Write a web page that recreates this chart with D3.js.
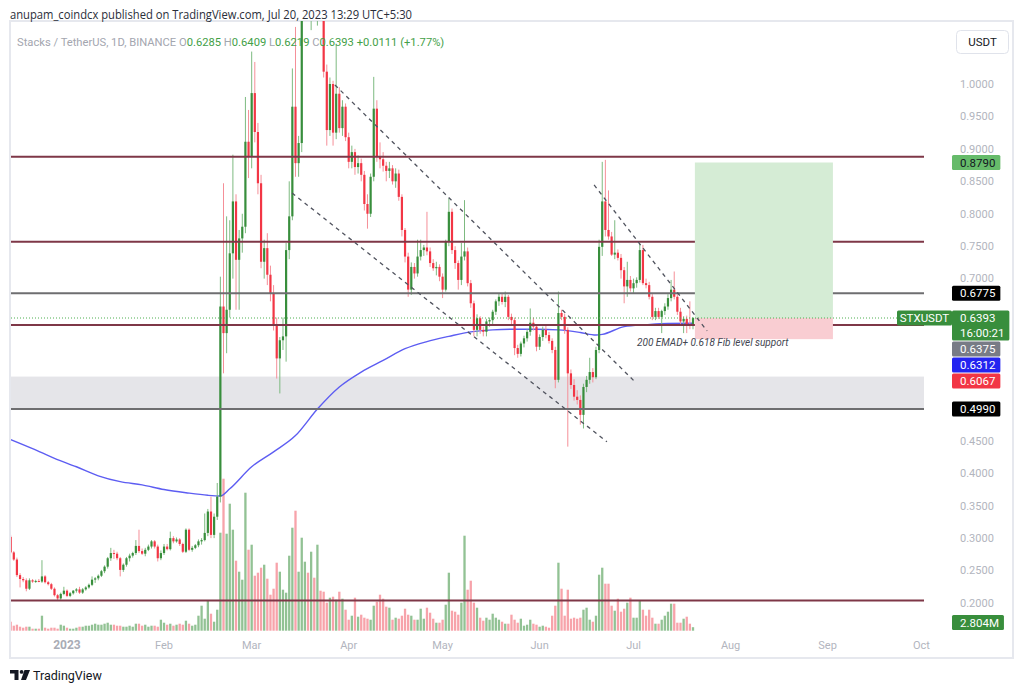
<!DOCTYPE html>
<html>
<head>
<meta charset="utf-8">
<script src="https://cdn.jsdelivr.net/npm/d3@7"></script>
<style>
  body { margin:0; background:#fff; }
  svg { display:block; font-family:Roboto, "Liberation Sans", Arial, sans-serif; }
</style>
</head>
<body>
<svg id="chart" width="1024" height="692"></svg>
<script>
// STX/USDT daily candles, first candle = 2022-12-14
// ---------------------------------------------------
var firstDay = new Date(2022, 11, 14);

var opens = [
  0.302,0.278,0.267,0.243,0.237,0.235,0.222,0.235,0.233,0.234,
  0.233,0.241,0.232,0.229,0.222,0.212,0.207,0.214,0.219,0.211,
  0.215,0.219,0.221,0.216,0.221,0.224,0.228,0.236,0.238,0.242,
  0.249,0.256,0.269,0.277,0.276,0.269,0.251,0.259,0.269,0.273,
  0.277,0.288,0.280,0.276,0.282,0.287,0.295,0.287,0.269,0.277,
  0.287,0.283,0.300,0.295,0.298,0.291,0.279,0.313,0.282,0.285,
  0.289,0.295,0.297,0.308,0.341,0.305,0.333,0.364,0.657,0.616,
  0.652,0.739,0.819,0.729,0.762,0.780,0.911,0.888,0.986,0.926,
  0.847,0.726,0.747,0.706,0.677,0.629,0.577,0.605,0.611,0.744,
  0.796,0.965,0.878,0.909,1.150,1.210,1.170,1.220,1.160,1.200,
  1.110,1.019,0.929,1.000,0.925,0.985,0.932,0.965,0.918,0.880,
  0.895,0.872,0.878,0.860,0.815,0.800,0.857,0.962,0.888,0.884,
  0.874,0.866,0.870,0.850,0.862,0.826,0.775,0.734,0.683,0.718,
  0.708,0.734,0.744,0.748,0.742,0.724,0.716,0.718,0.703,0.683,
  0.757,0.803,0.744,0.724,0.698,0.734,0.742,0.693,0.662,0.621,
  0.639,0.621,0.618,0.634,0.636,0.649,0.665,0.672,0.664,0.672,
  0.641,0.636,0.593,0.584,0.600,0.608,0.618,0.632,0.626,0.595,
  0.610,0.621,0.613,0.604,0.590,0.544,0.647,0.641,0.621,0.554,
  0.536,0.518,0.513,0.490,0.533,0.544,0.556,0.548,0.590,0.749,
  0.819,0.775,0.765,0.737,0.740,0.732,0.713,0.688,0.698,0.685,
  0.693,0.698,0.744,0.693,0.690,0.672,0.641,0.650,0.641,0.650,
  0.657,0.670,0.683,0.672,0.649,0.634,0.638,0.630,0.6285
];
var highs = [
  0.305,0.280,0.270,0.246,0.240,0.238,0.238,0.237,0.236,0.237,
  0.266,0.243,0.234,0.231,0.224,0.214,0.216,0.225,0.221,0.217,
  0.220,0.223,0.225,0.223,0.226,0.230,0.241,0.240,0.244,0.251,
  0.258,0.271,0.285,0.282,0.279,0.271,0.261,0.271,0.276,0.279,
  0.297,0.313,0.284,0.285,0.290,0.297,0.297,0.290,0.281,0.291,
  0.291,0.310,0.303,0.301,0.300,0.293,0.315,0.315,0.288,0.291,
  0.298,0.300,0.338,0.345,0.364,0.338,0.385,0.703,0.847,0.796,
  0.790,0.891,0.830,0.775,0.800,0.980,0.960,1.050,1.034,0.940,
  0.860,0.760,0.770,0.720,0.690,0.640,0.610,0.640,0.755,0.850,
  1.024,1.088,0.920,1.200,1.260,1.300,1.250,1.250,1.230,1.220,
  1.130,1.030,1.010,1.005,1.060,0.995,0.975,0.970,0.925,0.905,
  0.900,0.890,0.885,0.866,0.830,0.862,1.011,0.975,0.910,0.895,
  0.880,0.880,0.875,0.870,0.868,0.830,0.778,0.740,0.725,0.724,
  0.760,0.760,0.752,0.803,0.748,0.730,0.726,0.722,0.708,0.760,
  0.824,0.808,0.750,0.728,0.755,0.821,0.748,0.698,0.666,0.645,
  0.642,0.626,0.638,0.640,0.652,0.668,0.677,0.677,0.680,0.675,
  0.646,0.640,0.598,0.603,0.612,0.622,0.654,0.640,0.630,0.614,
  0.626,0.628,0.618,0.608,0.595,0.680,0.652,0.646,0.625,0.560,
  0.545,0.528,0.520,0.538,0.550,0.578,0.562,0.595,0.760,0.880,
  0.883,0.836,0.772,0.790,0.745,0.738,0.718,0.726,0.704,0.700,
  0.702,0.754,0.752,0.700,0.695,0.676,0.655,0.655,0.652,0.662,
  0.676,0.698,0.711,0.676,0.655,0.642,0.643,0.665,0.6409
];
var lows = [
  0.276,0.265,0.240,0.224,0.232,0.218,0.220,0.231,0.231,0.232,
  0.231,0.230,0.227,0.220,0.210,0.204,0.205,0.212,0.209,0.209,
  0.213,0.216,0.214,0.214,0.219,0.222,0.226,0.231,0.235,0.240,
  0.246,0.253,0.265,0.268,0.266,0.241,0.248,0.256,0.264,0.270,
  0.274,0.277,0.274,0.272,0.280,0.284,0.284,0.264,0.266,0.274,
  0.281,0.281,0.292,0.293,0.288,0.277,0.277,0.280,0.279,0.283,
  0.286,0.290,0.295,0.303,0.300,0.300,0.328,0.355,0.554,0.585,
  0.640,0.700,0.652,0.652,0.740,0.770,0.855,0.870,0.910,0.830,
  0.716,0.700,0.690,0.665,0.620,0.546,0.523,0.590,0.572,0.730,
  0.790,0.857,0.857,0.895,1.100,1.150,1.083,1.150,1.090,1.100,
  1.010,0.905,0.920,0.905,0.915,0.925,0.920,0.912,0.870,0.870,
  0.860,0.862,0.850,0.805,0.777,0.795,0.850,0.880,0.870,0.865,
  0.850,0.855,0.845,0.840,0.820,0.765,0.725,0.672,0.675,0.700,
  0.703,0.728,0.735,0.736,0.718,0.712,0.705,0.696,0.670,0.680,
  0.750,0.738,0.715,0.683,0.690,0.728,0.688,0.655,0.611,0.611,
  0.615,0.611,0.611,0.626,0.630,0.644,0.658,0.660,0.656,0.636,
  0.630,0.582,0.578,0.580,0.594,0.603,0.612,0.620,0.588,0.590,
  0.604,0.608,0.600,0.585,0.531,0.540,0.636,0.615,0.441,0.530,
  0.512,0.506,0.475,0.469,0.525,0.538,0.540,0.545,0.585,0.735,
  0.765,0.760,0.735,0.730,0.728,0.700,0.662,0.672,0.680,0.678,
  0.686,0.694,0.690,0.685,0.668,0.636,0.636,0.638,0.616,0.644,
  0.652,0.665,0.668,0.644,0.630,0.616,0.616,0.622,0.6219
];
var closes = [
  0.278,0.267,0.243,0.237,0.235,0.222,0.235,0.233,0.234,0.233,
  0.241,0.232,0.229,0.222,0.212,0.207,0.214,0.219,0.211,0.215,
  0.219,0.221,0.216,0.221,0.224,0.228,0.236,0.238,0.242,0.249,
  0.256,0.269,0.277,0.276,0.269,0.251,0.259,0.269,0.273,0.277,
  0.288,0.280,0.276,0.282,0.287,0.295,0.287,0.269,0.277,0.287,
  0.283,0.300,0.295,0.298,0.291,0.279,0.313,0.282,0.285,0.289,
  0.295,0.297,0.308,0.341,0.305,0.333,0.364,0.657,0.616,0.652,
  0.739,0.819,0.729,0.762,0.780,0.911,0.888,0.986,0.926,0.847,
  0.726,0.747,0.706,0.677,0.629,0.577,0.605,0.611,0.744,0.796,
  0.965,0.878,0.909,1.150,1.210,1.170,1.220,1.160,1.200,1.110,
  1.019,0.929,1.000,0.925,0.985,0.932,0.965,0.918,0.880,0.895,
  0.872,0.878,0.860,0.815,0.800,0.857,0.962,0.888,0.884,0.874,
  0.866,0.870,0.850,0.862,0.826,0.775,0.734,0.683,0.718,0.708,
  0.734,0.744,0.748,0.742,0.724,0.716,0.718,0.703,0.683,0.757,
  0.803,0.744,0.724,0.698,0.734,0.742,0.693,0.662,0.621,0.639,
  0.621,0.618,0.634,0.636,0.649,0.665,0.672,0.664,0.672,0.641,
  0.636,0.593,0.584,0.600,0.608,0.618,0.632,0.626,0.595,0.610,
  0.621,0.613,0.604,0.590,0.544,0.647,0.641,0.621,0.554,0.536,
  0.518,0.513,0.490,0.533,0.544,0.556,0.548,0.590,0.749,0.819,
  0.775,0.765,0.737,0.740,0.732,0.713,0.688,0.698,0.685,0.693,
  0.698,0.744,0.693,0.690,0.672,0.641,0.650,0.641,0.650,0.657,
  0.670,0.683,0.672,0.649,0.634,0.638,0.630,0.6282,0.6393
];
// volume in millions
var volumes = [
  7.2,4.0,4.8,3.2,2.4,3.2,3.2,1.6,1.6,1.6,
  12.0,2.4,1.6,2.4,2.4,1.6,4.8,4.0,2.4,1.6,
  1.6,2.4,3.2,3.2,4.0,4.0,4.8,5.6,4.8,4.8,
  5.6,6.4,4.8,4.8,4.0,4.0,3.2,3.2,4.0,3.2,
  5.6,5.6,4.0,4.8,3.2,4.0,4.0,3.2,8.8,6.4,
  4.8,5.6,4.0,4.8,5.6,4.8,8.0,5.6,4.0,4.8,
  12.0,20.0,9.6,24.0,13.6,7.2,16.8,78.4,121.6,77.6,
  101.6,80.8,56.0,47.2,40.8,110.4,64.8,68.8,44.0,46.4,
  50.4,52.8,41.6,28.8,33.6,54.4,47.2,32.8,30.4,60.0,
  82.4,96.0,47.2,74.4,55.2,46.4,63.2,42.4,68.8,32.0,
  31.2,22.4,26.4,27.2,24.8,31.2,25.6,16.8,8.8,12.0,
  26.4,11.2,12.8,10.4,9.6,8.8,20.0,23.2,28.8,25.6,
  19.2,18.4,8.8,10.4,9.6,12.0,17.6,12.8,12.0,8.8,
  8.8,17.6,9.6,18.4,14.4,9.6,6.4,6.4,8.8,20.8,
  46.4,16.0,15.2,12.8,22.4,76.0,32.8,40.0,22.4,18.4,
  10.4,8.0,10.4,8.8,13.6,10.4,8.8,7.2,5.6,5.6,
  12.8,8.8,6.4,9.6,4.0,4.8,8.8,5.6,4.8,3.2,
  4.0,3.2,2.4,12.0,20.0,54.4,33.6,12.0,32.8,9.6,
  10.4,9.6,10.4,16.8,18.4,8.8,7.2,12.0,44.8,50.4,
  37.6,37.6,20.0,16.0,25.6,15.2,17.6,22.4,26.4,10.4,
  10.4,24.0,16.8,12.0,16.8,10.4,5.6,5.6,8.8,12.0,
  15.2,21.6,21.6,6.4,6.4,9.6,11.2,5.6,2.804
];

// 200 EMA (day index -> value)
var emaDays   = [0,7,14,21,28,35,42,49,56,63,67,70,77,84,91,98,105,112,119,126,133,140,147,154,161,168,175,182,187,189,196,203,210,218];
var emaValues = [0.452,0.438,0.423,0.410,0.396,0.387,0.382,0.375,0.370,0.366,0.365,0.376,0.410,0.433,0.458,0.499,0.533,0.556,0.574,0.592,0.603,0.611,0.618,0.621,0.622,0.622,0.621,0.617,0.613,0.614,0.626,0.629,0.631,0.6312];

// drawings
var maroonLevels = [0.888, 0.757, 0.6287, 0.2038];
var greyLevels   = [0.6775, 0.4990];
var greyZone     = [0.4990, 0.549];
var trendLines   = [
  [[103.6, 0.9985], [199.8, 0.5393]],
  [[89.9, 0.832],   [190.5, 0.4484]],
  [[186.4, 0.8444], [222.5, 0.6194]]
];
var posDays   = [218.6, 262.7];
var posPrices = {target:0.8790, entry:0.6393, stop:0.6067};

var priceTicks = d3.range(0.2, 1.0001, 0.05);
var monthTicks = ["2023","Feb","Mar","Apr","May","Jun","Jul","Aug","Sep","Oct"];

// right-axis labels
var axisLabels = [
  {v:0.8790, txt:["0.8790"],            bg:"#66bb6a", fg:"#131722"},
  {v:0.6775, txt:["0.6775"],            bg:"#000000", fg:"#ffffff"},
  {v:0.6393, txt:["0.6393","16:00:21"], bg:"#388e3c", fg:"#ffffff"},
  {v:0.6375, txt:["0.6375"],            bg:"#787b86", fg:"#ffffff"},
  {v:0.6312, txt:["0.6312"],            bg:"#2424f0", fg:"#ffffff"},
  {v:0.6067, txt:["0.6067"],            bg:"#f23645", fg:"#ffffff"},
  {v:0.4990, txt:["0.4990"],            bg:"#000000", fg:"#ffffff"}
];

// -----------------------------
function dayDate(d){ return new Date(firstDay.getTime() + d*864e5); }

var svg = d3.select("#chart");
var x = d3.scaleTime().domain([new Date(2023,0,1), new Date(2023,9,1)]).range([67, 921.5]);
var y = d3.scaleLinear().domain([0.2, 1.0]).range([603, 84]);
var yVol = d3.scaleLinear().domain([0, 120]).range([630.7, 480.7]);

var paneL = 11, paneR = 924, paneT = 21, paneB = 657;

svg.append("defs").append("clipPath").attr("id","pane")
  .append("rect").attr("x",paneL).attr("y",paneT).attr("width",paneR-paneL).attr("height",paneB-paneT);

// frame
svg.append("rect")
  .attr("x",10).attr("y",21).attr("width",1003).attr("height",637)
  .attr("fill","none").attr("stroke","#e6e8ee").attr("stroke-width",2);

var pane = svg.append("g").attr("clip-path","url(#pane)");

// grey zone
pane.append("rect")
  .attr("x",paneL).attr("width",paneR-paneL)
  .attr("y",y(greyZone[1])).attr("height",y(greyZone[0])-y(greyZone[1]))
  .attr("fill","#e5e5e9");

var candles = d3.range(closes.length).map(function(i){
  return {d:dayDate(i), o:opens[i], h:highs[i], l:lows[i], c:closes[i], v:volumes[i], up:closes[i]>=opens[i]};
});

// volume
pane.append("g").selectAll("rect").data(candles).enter().append("rect")
  .attr("x",function(d){ return x(d.d)-1.15; })
  .attr("width",2.3)
  .attr("y",function(d){ return yVol(d.v); })
  .attr("height",function(d){ return yVol(0)-yVol(d.v); })
  .attr("fill",function(d){ return d.up ? "#92c294" : "#f7a3aa"; });

// 200 EMA
var emaLine = d3.line()
  .x(function(d,i){ return x(dayDate(emaDays[i])); })
  .y(function(d){ return y(d); })
  .curve(d3.curveMonotoneX);
pane.append("path").datum(emaValues)
  .attr("d",emaLine).attr("fill","none")
  .attr("stroke","#5d5df2").attr("stroke-width",1.4);

// candles
var cg = pane.append("g").selectAll("g").data(candles).enter().append("g");
cg.append("line")
  .attr("x1",function(d){ return x(d.d); }).attr("x2",function(d){ return x(d.d); })
  .attr("y1",function(d){ return y(d.h); }).attr("y2",function(d){ return y(d.l); })
  .attr("stroke",function(d){ return d.up ? "#7dba80" : "#f58f98"; })
  .attr("stroke-width",1);
cg.append("rect")
  .attr("x",function(d){ return x(d.d)-1.1; })
  .attr("width",2.2)
  .attr("y",function(d){ return y(Math.max(d.o,d.c)); })
  .attr("height",function(d){ return Math.max(1, Math.abs(y(d.o)-y(d.c))); })
  .attr("fill",function(d){ return d.up ? "#388e3c" : "#f23645"; });

// horizontal levels
pane.append("g").selectAll("line").data(maroonLevels).enter().append("line")
  .attr("x1",paneL).attr("x2",paneR)
  .attr("y1",function(d){ return y(d); }).attr("y2",function(d){ return y(d); })
  .attr("stroke","#7e3747").attr("stroke-width",2);
pane.append("g").selectAll("line").data(greyLevels).enter().append("line")
  .attr("x1",paneL).attr("x2",paneR)
  .attr("y1",function(d){ return y(d); }).attr("y2",function(d){ return y(d); })
  .attr("stroke","#6e6e70").attr("stroke-width",2);

// long position box
var px0 = x(dayDate(posDays[0])), px1 = x(dayDate(posDays[1]));
pane.append("rect")
  .attr("x",px0).attr("width",px1-px0)
  .attr("y",y(posPrices.target)).attr("height",y(posPrices.entry)-y(posPrices.target))
  .attr("fill","#d5ecd5");
pane.append("rect")
  .attr("x",px0).attr("width",px1-px0)
  .attr("y",y(posPrices.entry)).attr("height",y(posPrices.stop)-y(posPrices.entry))
  .attr("fill","#f9cdd2");

// last price dotted line
pane.append("line")
  .attr("x1",paneL).attr("x2",897)
  .attr("y1",y(closes[closes.length-1])).attr("y2",y(closes[closes.length-1]))
  .attr("stroke","#4caf50").attr("stroke-width",1).attr("stroke-dasharray","1,2");

// dashed trend lines
pane.append("g").selectAll("line").data(trendLines).enter().append("line")
  .attr("x1",function(d){ return x(dayDate(d[0][0])); })
  .attr("y1",function(d){ return y(d[0][1]); })
  .attr("x2",function(d){ return x(dayDate(d[1][0])); })
  .attr("y2",function(d){ return y(d[1][1]); })
  .attr("stroke","#50535e").attr("stroke-width",1.3).attr("stroke-dasharray","4,4");

// annotation
pane.append("text")
  .attr("x",637).attr("y",346)
  .attr("font-size","10px").attr("font-style","italic").attr("fill","#434651")
  .text("200 EMAD+ 0.618 Fib level support");

// title
svg.append("text")
  .attr("x",10).attr("y",19)
  .attr("font-family","'Open Sans', Roboto, sans-serif")
  .attr("font-size","12.5px").attr("fill","#2a2e39")
  .attr("textLength",402).attr("lengthAdjust","spacingAndGlyphs")
  .text("anupam_coindcx published on TradingView.com, Jul 20, 2023 13:29 UTC+5:30");

// legend
var last = closes.length-1;
var chg = closes[last]-closes[last-1];
var leg = svg.append("text").attr("x",17).attr("y",46)
  .attr("font-size","11.2px").style("white-space","pre");
var grey = "#a3a6af", green = "#43a047";
var parts = [
  ["Stacks / TetherUS, 1D, BINANCE ", grey],
  ["O", grey], [d3.format(".4f")(opens[last])+" ", green],
  ["H", grey], [d3.format(".4f")(highs[last])+" ", green],
  ["L", grey], [d3.format(".4f")(lows[last])+" ", green],
  ["C", grey], [d3.format(".4f")(closes[last])+" ", green],
  ["+"+d3.format(".4f")(chg)+" (+"+d3.format(".2f")(chg/closes[last-1]*100)+"%)", green]
];
parts.forEach(function(p){ leg.append("tspan").attr("fill",p[1]).text(p[0]); });

// time axis
var months = d3.timeMonth.range(new Date(2023,0,1), new Date(2023,9,2));
svg.append("g").selectAll("text").data(months).enter().append("text")
  .attr("x",function(d){ return x(d); }).attr("y",649)
  .attr("text-anchor","middle")
  .attr("font-size",function(d,i){ return i===0 ? "12px" : "11px"; })
  .attr("font-weight",function(d,i){ return i===0 ? "bold" : "normal"; })
  .attr("fill",function(d,i){ return i===0 ? "#a9acb5" : "#b2b5be"; })
  .text(function(d,i){ return monthTicks[i]; });

// stacked right-axis labels (computed first so ticks under them can be hidden)
var prevBottom = -1e9;
axisLabels.forEach(function(lb){
  var h = 15*lb.txt.length;
  var top = y(lb.v)-7.5;
  if (top < prevBottom+1) top = prevBottom+1;
  prevBottom = top+h;
  lb.top = top; lb.h = h;
});
var vTop = Math.min(yVol(volumes[last])-7.5, 630-15);

function covered(ty){
  var hit = axisLabels.some(function(lb){ return ty+6 > lb.top && ty-6 < lb.top+lb.h; });
  return hit || (ty+6 > vTop && ty-6 < vTop+15);
}

// price axis ticks
svg.append("g").selectAll("text").data(priceTicks.filter(function(d){ return !covered(y(d)); }))
  .enter().append("text")
  .attr("x",960).attr("y",function(d){ return y(d); })
  .attr("dy","0.35em").attr("font-size","11px").attr("fill","#b2b5be")
  .text(function(d){ return d3.format(".4f")(d); });

axisLabels.forEach(function(lb){
  var g = svg.append("g");
  var r = g.append("rect").attr("x",952).attr("y",lb.top).attr("height",lb.h).attr("rx",1.5).attr("fill",lb.bg);
  var w = 0;
  lb.txt.forEach(function(t,k){
    var tx = g.append("text").attr("x",960).attr("y",lb.top+7.5+15*k).attr("dy","0.35em")
      .attr("font-size","11.5px").attr("fill",lb.fg).text(t);
    w = Math.max(w, tx.node().getComputedTextLength());
  });
  r.attr("width",w+13);
});

// symbol tag beside last price
var lastTop = axisLabels[2].top;
svg.append("rect").attr("x",897).attr("y",lastTop).attr("width",55).attr("height",15).attr("rx",1.5).attr("fill","#388e3c");
svg.append("text").attr("x",924.5).attr("y",lastTop+7.5).attr("dy","0.35em")
  .attr("text-anchor","middle").attr("font-size","11.5px").attr("fill","#fff").text("STXUSDT");

// volume label
var vg = svg.append("g");
var vr = vg.append("rect").attr("x",952).attr("y",vTop).attr("height",15).attr("rx",1.5).attr("fill","#388e3c");
var vt = vg.append("text").attr("x",960).attr("y",vTop+7.5).attr("dy","0.35em")
  .attr("font-size","11.5px").attr("fill","#fff").text(d3.format(".4")(volumes[last])+"M");
vr.attr("width",vt.node().getComputedTextLength()+13);

// currency button
svg.append("rect").attr("x",956.5).attr("y",30.5).attr("width",52).attr("height",23).attr("rx",4)
  .attr("fill","#fff").attr("stroke","#e0e3eb");
svg.append("text").attr("x",982.5).attr("y",42).attr("dy","0.35em").attr("text-anchor","middle")
  .attr("font-size","11.5px").attr("fill","#131722").text("USDT");

// TradingView logo
var logo = svg.append("g").attr("fill","#131722");
logo.append("path").attr("d","M10,670 H18.5 V680 H14.5 V673.6 H10 Z");
logo.append("circle").attr("cx",21.6).attr("cy",671.9).attr("r",1.9);
logo.append("path").attr("d","M24.5,670 H30 L26,680 H21 Z");
svg.append("text").attr("x",33).attr("y",680)
  .attr("font-size","12.5px").attr("fill","#131722").text("TradingView");
</script>
</body>
</html>
